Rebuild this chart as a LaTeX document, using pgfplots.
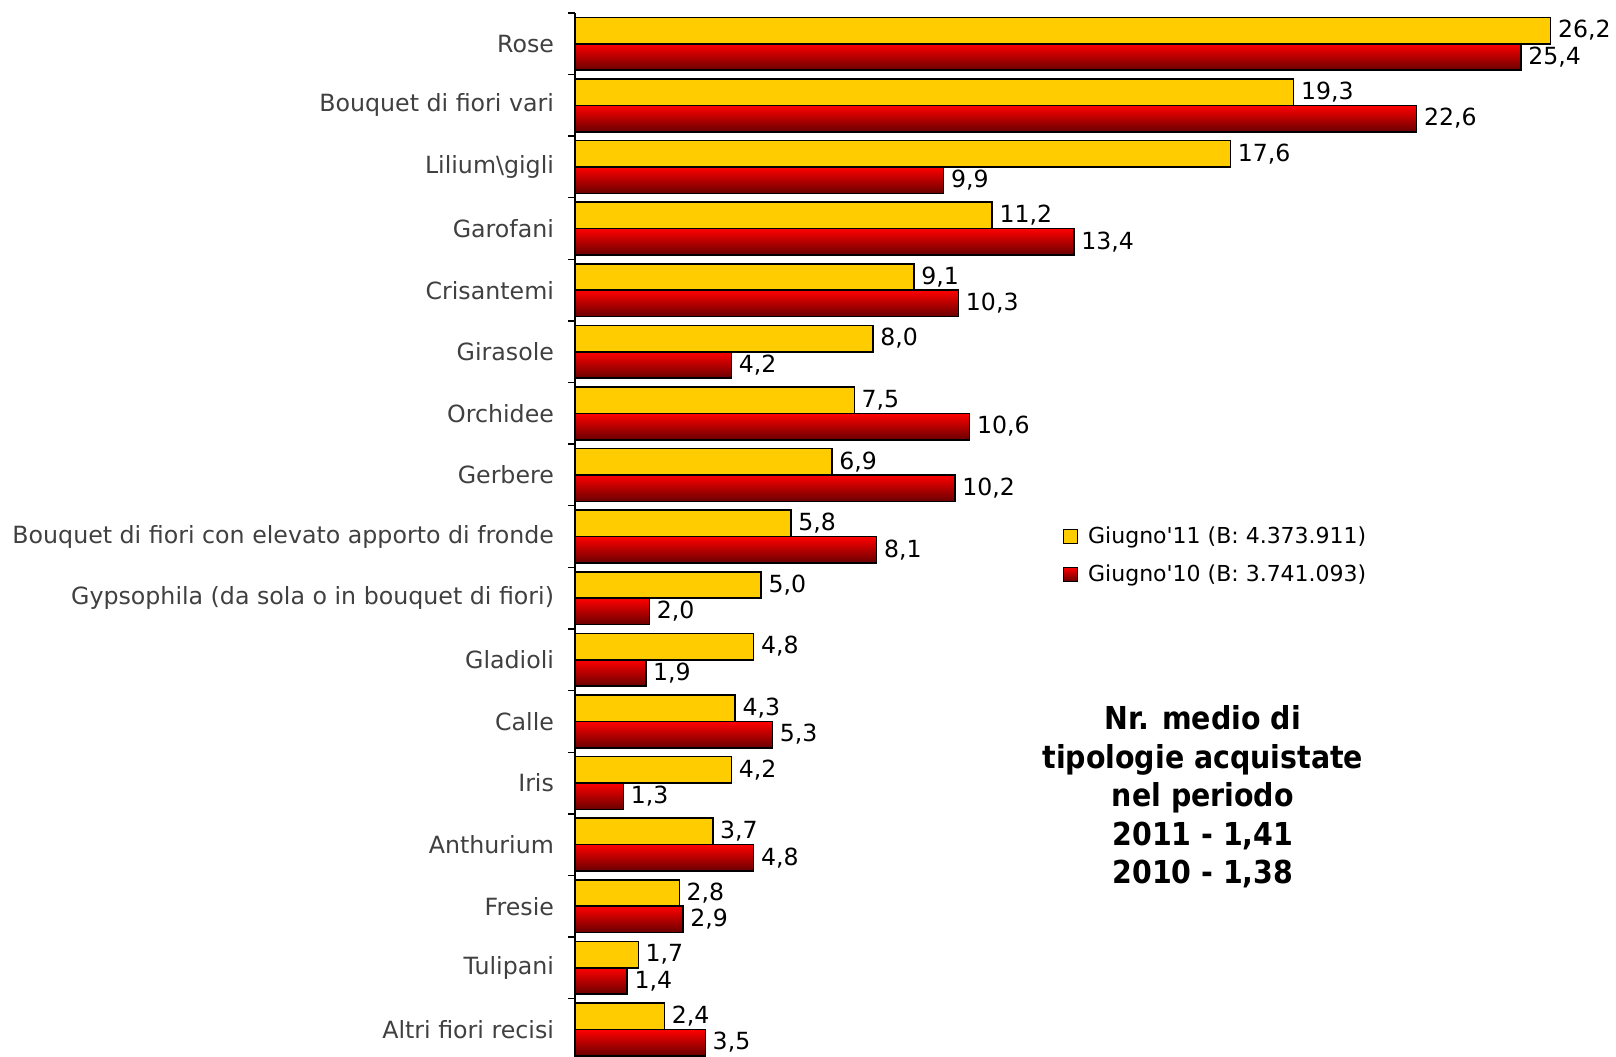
\documentclass[border=0pt]{standalone}
\usepackage{fontspec}
\setmainfont{DejaVu Sans}
\usepackage{pgfplots}
\pgfplotsset{compat=1.18}
\definecolor{yel}{RGB}{255,204,0}
\definecolor{lbl}{RGB}{64,64,64}
\definecolor{rtop}{RGB}{255,0,0}
\definecolor{rmid}{RGB}{235,0,0}
\definecolor{rbot}{RGB}{105,0,0}
\pgfplotsset{redbar/.style={top color=rtop, middle color=rmid, bottom color=rbot, draw=black, line width=0.75pt, bar shift=-6.6pt}}
\begin{document}
\begin{tikzpicture}
\begin{axis}[
  name=ax, scale only axis, width=519.5pt, height=523.6pt,
  xbar, bar width=13.2pt,
  xmin=0, xmax=27.9, ymin=-0.5, ymax=16.5,
  axis x line=none, axis y line*=left,
  axis line style={black, line width=0.7pt},
  ytick={0,...,16},
  yticklabels={Altri fiori recisi, Tulipani, Fresie, Anthurium, Iris, Calle, Gladioli, Gypsophila (da sola o in bouquet di fiori), Bouquet di fiori con elevato apporto di fronde, Gerbere, Orchidee, Girasole, Crisantemi, Garofani, Lilium\textbackslash gigli, Bouquet di fiori vari, Rose},
  major tick length=0pt,
  minor ytick={-0.5,0.5,...,16.5},
  minor tick length=3.5pt, tick align=outside,
  tick style={black, line width=0.7pt},
  yticklabel style={font=\fontsize{11.85}{14}\selectfont, text=lbl, xshift=-7pt},
  clip=false,
  nodes near coords,
  point meta=x,
  nodes near coords style={font=\fontsize{11.8}{13}\selectfont, text=black, anchor=west},
  /pgf/number format/.cd, fixed, fixed zerofill, precision=1, use comma, assume math mode=true,
  /pgfplots/.cd,
  legend style={at={(0.469,0.482)}, anchor=west, draw=none, fill=none,
    font=\fontsize{11}{13}\selectfont, row sep=5pt, inner sep=0pt},
  legend cell align=left,
  legend image code/.code={\draw[#1, draw=black, line width=0.5pt] (0pt,-3.5pt) rectangle (7pt,3.5pt); \path[opacity=0] (0pt,0pt) -- (10pt,0pt);},
]
\addplot[fill=yel, draw=black, line width=0.75pt, bar shift=6.6pt] coordinates {
 (26.2,16) (19.3,15) (17.6,14) (11.2,13) (9.1,12) (8.0,11) (7.5,10) (6.9,9)
 (5.8,8) (5.0,7) (4.8,6) (4.3,5) (4.2,4) (3.7,3) (2.8,2) (1.7,1) (2.4,0)};
\addplot[redbar] coordinates {(25.4,16)};
\addplot[redbar, forget plot] coordinates {(22.6,15)};
\addplot[redbar, forget plot] coordinates {(9.9,14)};
\addplot[redbar, forget plot] coordinates {(13.4,13)};
\addplot[redbar, forget plot] coordinates {(10.3,12)};
\addplot[redbar, forget plot] coordinates {(4.2,11)};
\addplot[redbar, forget plot] coordinates {(10.6,10)};
\addplot[redbar, forget plot] coordinates {(10.2,9)};
\addplot[redbar, forget plot] coordinates {(8.1,8)};
\addplot[redbar, forget plot] coordinates {(2.0,7)};
\addplot[redbar, forget plot] coordinates {(1.9,6)};
\addplot[redbar, forget plot] coordinates {(5.3,5)};
\addplot[redbar, forget plot] coordinates {(1.3,4)};
\addplot[redbar, forget plot] coordinates {(4.8,3)};
\addplot[redbar, forget plot] coordinates {(2.9,2)};
\addplot[redbar, forget plot] coordinates {(1.4,1)};
\addplot[redbar, forget plot] coordinates {(3.5,0)};
\legend{Giugno\textquotesingle 11 (B: 4.373.911), Giugno\textquotesingle 10 (B: 3.741.093)}
\node[align=center, font=\fontspec{DejaVu Sans Condensed}\bfseries\fontsize{15.8}{19.25}\selectfont] at (axis cs:16.86,3.77)
 {Nr. medio di\\tipologie acquistate\\nel periodo\\2011 - 1,41\\2010 - 1,38};
\end{axis}
\pgfresetboundingbox
\path[use as bounding box] ([shift={(-287.5pt,6.5pt)}]ax.north west) rectangle ([shift={(520.5pt,-521.5pt)}]ax.north west);
\end{tikzpicture}
\end{document}
